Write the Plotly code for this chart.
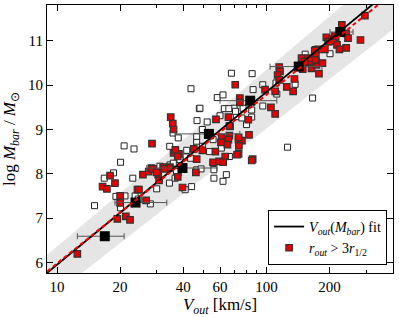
import numpy as np
import plotly.graph_objects as go

# ---- data ----
red_v = [12.5, 16.5, 17.3, 17.9, 18.9, 20.0, 20.0, 19.4, 21.3, 22.3,
         24.2, 24.6, 25.7, 26.6, 27.4, 28.2, 30.4, 30.7, 32.1, 34.6,
         37.7, 39.7, 46.0, 34.9, 35.7, 36.0, 28.4, 36.0, 38.2, 57.4,
         70.9, 74.6, 74.6, 98.4, 110, 105, 110, 65.8, 67.0, 82.5,
         66.5, 65.8, 73.5, 65.1, 76.3, 73.8, 57.0, 63.5, 73.6, 85.9,
         115, 116, 113, 115, 125, 136, 134, 147, 155, 164,
         173, 178, 185, 166, 172, 176, 193, 214, 197, 207,
         217, 223, 240, 229, 240, 245, 281, 295, 55.6, 59.4,
         62.1, 85.0, 66.5, 81.9, 73.6, 61.1, 60.6, 49.4, 45.0,
         46.4, 72.3, 36.7, 37.7, 34.3, 32.5, 28.7, 29.9, 163,
         149, 172, 170, 200, 212, 158, 171, 152, 190]
red_logm = [6.19, 7.71, 7.66, 7.96, 7.79, 7.50, 7.34, 6.98, 7.04, 6.96,
            7.64, 7.64, 7.98, 7.40, 8.05, 8.13, 7.98, 7.85, 8.15, 8.15,
            7.93, 7.69, 8.03, 9.28, 9.13, 9.00, 8.68, 8.47, 8.45, 9.23,
            10.01, 9.71, 9.61, 9.90, 9.86, 9.50, 9.35, 9.28, 9.07, 8.88,
            8.86, 8.77, 8.77, 8.66, 8.75, 8.63, 8.50, 8.39, 8.45, 8.33,
            10.41, 10.31, 10.23, 10.12, 9.96, 10.14, 9.86, 10.61, 10.50, 10.38,
            10.46, 10.26, 10.50, 10.57, 10.80, 10.81, 11.08, 11.08, 10.98, 11.04,
            10.91, 10.81, 10.84, 11.36, 11.17, 11.06, 11.02, 11.57, 8.26, 8.28,
            8.26, 8.30, 9.08, 9.22, 8.82, 8.82, 8.71, 8.53, 8.56,
            8.33, 8.43, 8.54, 8.39, 8.13, 8.11, 8.11, 8.03, 10.53,
            10.36, 10.68, 10.78, 10.99, 11.11, 10.61, 10.57, 10.53, 10.81]

open_v = [20.9, 23.3, 43.6, 46.6, 47.8, 35.8, 37.9, 34.5, 36.8, 41.6,
          46.4, 68.0, 85.4, 48.1, 58.2, 62.0, 62.9, 70.0, 96.0, 86.3,
          77.3, 85.0, 96.0, 52.1, 60.0, 71.8, 76.3, 85.0, 80.3, 49.4,
          55.6, 60.9, 66.5, 126, 166, 153, 174, 201, 137, 111,
          112, 56.1, 62.0, 64.3, 15.1, 18.6, 16.8, 19.1, 20.1, 21.1,
          20.1, 23.0, 23.6, 24.4, 27.9, 29.9, 34.4, 34.6, 37.0, 37.9,
          36.6, 43.9, 40.9, 46.4, 66.1, 71.1, 46.4, 46.4, 49.4, 53.5,
          41.3, 38.6, 35.9, 43.4, 48.7, 55.6, 56.1, 31.0, 37.2]
open_logm = [8.63, 8.56, 9.92, 9.20, 9.47, 8.92, 8.81, 8.62, 8.53, 8.53,
             8.84, 10.27, 10.26, 9.48, 9.72, 9.78, 9.47, 9.48, 10.01, 9.90,
             9.48, 9.44, 9.53, 9.17, 9.31, 9.29, 9.26, 9.28, 9.11, 9.00,
             8.77, 8.58, 8.39, 8.60, 9.71, 10.70, 10.53, 10.71, 10.02, 10.05,
             9.80, 7.90, 7.83, 7.98, 7.28, 8.02, 7.90, 7.49, 8.26, 7.50,
             7.23, 7.90, 7.50, 7.43, 7.32, 7.66, 7.79, 8.20, 8.23, 8.02,
             7.90, 7.71, 7.64, 8.09, 9.47, 9.41, 8.71, 8.60, 8.62, 8.50,
             8.38, 8.32, 8.24, 8.35, 8.11, 8.24, 8.09, 8.17, 8.05]

bin_v = [16.9, 23.7, 39.7, 53.1, 83.6, 142.5, 225]
bin_logm = [6.59, 7.35, 8.13, 8.90, 9.65, 10.42, 11.20]
bin_v_lo = [12.5, 18.9, 26.8, 36.6, 60.0, 104, 201]
bin_v_hi = [20.9, 33.4, 58.0, 74.6, 112, 184, 259]

# fit lines: logM = a + b*logV
fit_black = (2.047, 3.90)
fit_red = (2.168, 3.808)
band_upper = (2.37, 3.99)
band_lower = (1.62, 3.70)

x_ticks = [10, 20, 40, 60, 100, 200]
x_minor = [30, 50, 70, 80, 90, 300, 400]
x_range_log = [0.952, 2.604]
y_range = [5.76, 11.81]

FONT = "Liberation Serif"

vgrid = np.logspace(0.85, 2.75, 200)
def line(p):
    return p[0] + p[1] * np.log10(vgrid)

fig = go.Figure()

# band
fig.add_trace(go.Scatter(
    x=np.concatenate([vgrid, vgrid[::-1]]),
    y=np.concatenate([line(band_upper), line(band_lower)[::-1]]),
    fill="toself", fillcolor="#e5e5e5", line=dict(width=0),
    mode="lines", hoverinfo="skip", showlegend=False))

# open squares
fig.add_trace(go.Scatter(
    x=open_v, y=open_logm, mode="markers", showlegend=False,
    marker=dict(symbol="square", size=6, color="white",
                line=dict(color="#222222", width=1))))

# red squares
fig.add_trace(go.Scatter(
    x=red_v, y=red_logm, mode="markers", showlegend=False,
    marker=dict(symbol="square", size=6.5, color="#e80000",
                line=dict(color="#333333", width=1.2))))

# binned black squares with x error bars
fig.add_trace(go.Scatter(
    x=bin_v, y=bin_logm, mode="markers", showlegend=False,
    marker=dict(symbol="square", size=10, color="black"),
    error_x=dict(type="data", symmetric=False,
                 array=[h - v for h, v in zip(bin_v_hi, bin_v)],
                 arrayminus=[v - l for v, l in zip(bin_v, bin_v_lo)],
                 color="#555555", thickness=1, width=3)))

# fit lines
fig.add_trace(go.Scatter(
    x=vgrid, y=line(fit_black), mode="lines", showlegend=False,
    line=dict(color="black", width=1.8)))
fig.add_trace(go.Scatter(
    x=vgrid, y=line(fit_red), mode="lines", showlegend=False,
    line=dict(color="#ff0000", width=2, dash="4px,3px")))

# legend entries
fig.add_trace(go.Scatter(
    x=[None], y=[None], mode="lines", line=dict(color="black", width=1.8),
    name="<i>V</i><sub><i>out</i></sub>(<i>M</i><sub><i>bar</i></sub>) fit"))
fig.add_trace(go.Scatter(
    x=[None], y=[None], mode="markers",
    marker=dict(symbol="square", size=6.5, color="#e80000",
                line=dict(color="#333333", width=1.2)),
    name="<i>r</i><sub><i>out</i></sub> > 3<i>r</i><sub>1/2</sub>"))

fig.update_layout(
    width=399, height=317,
    margin=dict(l=47, r=6, t=5, b=44, autoexpand=False),
    paper_bgcolor="white", plot_bgcolor="white",
    font=dict(family=FONT, size=15, color="black"),
    legend=dict(x=0.983, y=0.03, xanchor="right", yanchor="bottom",
                bordercolor="black", borderwidth=1, bgcolor="white",
                font=dict(family=FONT, size=14), tracegroupgap=2,
                itemwidth=30),
)
fig.update_xaxes(
    type="log", range=x_range_log, tickvals=x_ticks,
    ticktext=[str(t) for t in x_ticks],
    ticks="inside", ticklen=6, tickwidth=1, tickcolor="black",
    showline=True, linecolor="black", linewidth=1.2, mirror="ticks",
    showgrid=False, zeroline=False, automargin=False,
    minor=dict(tickvals=x_minor, ticks="inside", ticklen=3, tickcolor="black", showgrid=False),
    title=dict(text="<i>V</i><sub><i>out</i></sub> [km/s]", font=dict(size=17)),
)
fig.update_yaxes(
    range=y_range, tickvals=[6, 7, 8, 9, 10, 11],
    ticks="inside", ticklen=6, tickwidth=1, tickcolor="black",
    showline=True, linecolor="black", linewidth=1.2, mirror="ticks",
    showgrid=False, zeroline=False, automargin=False,
    title=dict(text="log <i>M</i><sub><i>bar</i></sub> / <i>M</i><sub>⊙</sub>",
               font=dict(size=17)),
)

fig.write_html("out.html", config={"displayModeBar": False},
               post_script="document.body.style.margin='0';")
